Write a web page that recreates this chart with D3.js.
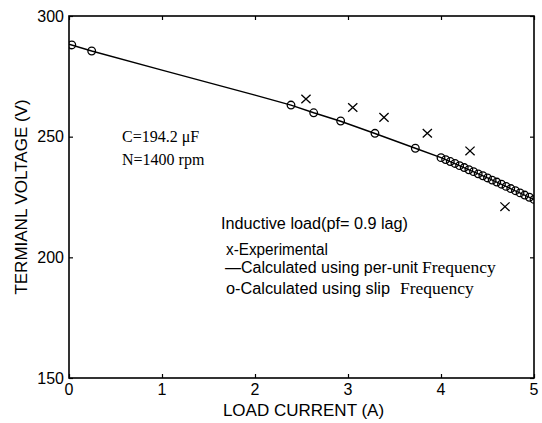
<!DOCTYPE html>
<html>
<head>
<meta charset="utf-8">
<script src="https://cdn.jsdelivr.net/npm/d3@7"></script>
<style>
  html, body { margin: 0; padding: 0; background: #fff; }
  svg { display: block; }
  .sans { font-family: "Liberation Sans", Arial, sans-serif; }
  .serif { font-family: "Liberation Serif", "Times New Roman", serif; }
</style>
</head>
<body>
<svg id="chart" width="542" height="423"></svg>
<script>
// Axis ticks
const xTicks = [0, 1, 2, 3, 4, 5];
const yTicks = [150, 200, 250, 300];

// Experimental points (x markers)
const expCurrent = [2.548, 3.051, 3.387, 3.853, 4.312, 4.688];
const expVoltage = [265.6, 262.1, 258.0, 251.4, 244.1, 221.0];

// Calculated using slip frequency (o markers)
const slipCurrent = [0.03, 0.244, 2.387, 2.631, 2.921, 3.290, 3.724,
  4.00, 4.05, 4.10, 4.15, 4.20, 4.25, 4.30, 4.35, 4.40, 4.45, 4.50,
  4.55, 4.60, 4.65, 4.70, 4.75, 4.80, 4.85, 4.90, 4.95, 5.00];
const slipVoltage = [288.0, 285.5, 263.1, 259.9, 256.5, 251.4, 245.2,
  241.3, 240.5, 239.7, 238.9, 238.0, 237.2, 236.3, 235.5, 234.6, 233.8, 232.9,
  232.0, 231.2, 230.3, 229.4, 228.5, 227.6, 226.7, 225.8, 224.9, 224.0];

// Calculated using per-unit frequency (solid line)
const puCurrent = [0, 0.244, 1.0, 2.0, 2.387, 2.631, 2.921, 3.290, 3.724, 4.0, 4.5, 5.0];
const puVoltage = [288.3, 285.5, 277.6, 267.2, 263.1, 259.9, 256.4, 251.3, 245.2, 241.3, 232.9, 224.0];

const svg = d3.select("#chart");
const plot = { left: 69, right: 534, top: 16, bottom: 378 };

const x = d3.scaleLinear().domain([0, 5]).range([plot.left, plot.right]);
const y = d3.scaleLinear().domain([150, 300]).range([plot.bottom, plot.top]);

// Clip for marks at the frame edge
svg.append("defs").append("clipPath").attr("id", "clip")
  .append("rect")
  .attr("x", plot.left).attr("y", plot.top)
  .attr("width", plot.right - plot.left).attr("height", plot.bottom - plot.top);

// Axes with inward ticks on all four sides
const tickLen = 4;
svg.append("g").attr("transform", `translate(0,${plot.bottom})`)
  .call(d3.axisBottom(x).tickValues(xTicks).tickSizeInner(-tickLen).tickSizeOuter(0).tickFormat(""));
svg.append("g").attr("transform", `translate(0,${plot.top})`)
  .call(d3.axisTop(x).tickValues(xTicks).tickSizeInner(-tickLen).tickSizeOuter(0).tickFormat(""));
svg.append("g").attr("transform", `translate(${plot.left},0)`)
  .call(d3.axisLeft(y).tickValues(yTicks).tickSizeInner(-tickLen).tickSizeOuter(0).tickFormat(""));
svg.append("g").attr("transform", `translate(${plot.right},0)`)
  .call(d3.axisRight(y).tickValues(yTicks).tickSizeInner(-tickLen).tickSizeOuter(0).tickFormat(""));
svg.selectAll(".domain").remove();
svg.selectAll(".tick line").attr("stroke", "#000").attr("stroke-width", 1.2);

// Frame
svg.append("rect")
  .attr("x", plot.left).attr("y", plot.top)
  .attr("width", plot.right - plot.left).attr("height", plot.bottom - plot.top)
  .attr("fill", "none").attr("stroke", "#000").attr("stroke-width", 1.6);

// Tick labels
svg.append("g").selectAll("text").data(xTicks).join("text")
  .attr("class", "sans")
  .attr("x", d => x(d)).attr("y", 395)
  .attr("text-anchor", "middle").attr("font-size", 16)
  .text(d => d);
svg.append("g").selectAll("text").data(yTicks).join("text")
  .attr("class", "sans")
  .attr("x", plot.left - 5).attr("y", d => y(d))
  .attr("dy", "0.36em")
  .attr("text-anchor", "end").attr("font-size", 16)
  .text(d => d);

// Axis titles
svg.append("text").attr("class", "sans")
  .attr("x", (plot.left + plot.right) / 2 + 2).attr("y", 416)
  .attr("text-anchor", "middle").attr("font-size", 17)
  .text("LOAD CURRENT (A)");
svg.append("text").attr("class", "sans")
  .attr("transform", `translate(27,${(plot.top + plot.bottom) / 2}) rotate(-90)`)
  .attr("text-anchor", "middle").attr("font-size", 17)
  .text("TERMIANL VOLTAGE (V)");

const marks = svg.append("g").attr("clip-path", "url(#clip)");

// Solid calculated curve
marks.append("path")
  .datum(puCurrent.map((c, i) => [c, puVoltage[i]]))
  .attr("fill", "none").attr("stroke", "#000").attr("stroke-width", 1.4)
  .attr("d", d3.line().x(d => x(d[0])).y(d => y(d[1])));

// Slip-frequency circles
marks.append("g").selectAll("circle")
  .data(slipCurrent.map((c, i) => [c, slipVoltage[i]]))
  .join("circle")
  .attr("cx", d => x(d[0])).attr("cy", d => y(d[1]))
  .attr("r", 3.8)
  .attr("fill", "none").attr("stroke", "#000").attr("stroke-width", 1.3);

// Experimental crosses
const hw = 4.6, hh = 4.3;
marks.append("g").selectAll("path")
  .data(expCurrent.map((c, i) => [c, expVoltage[i]]))
  .join("path")
  .attr("d", d => {
    const cx = x(d[0]), cy = y(d[1]);
    return `M${cx - hw},${cy - hh}L${cx + hw},${cy + hh}M${cx - hw},${cy + hh}L${cx + hw},${cy - hh}`;
  })
  .attr("stroke", "#000").attr("stroke-width", 1.3).attr("fill", "none");

// Operating conditions
svg.append("text").attr("class", "serif")
  .attr("x", 122).attr("y", 142).attr("font-size", 16)
  .text("C=194.2 \u03bcF");
svg.append("text").attr("class", "serif")
  .attr("x", 122).attr("y", 165).attr("font-size", 16)
  .text("N=1400 rpm");

// Legend block
svg.append("text").attr("class", "sans")
  .attr("x", 221).attr("y", 229).attr("font-size", 16)
  .attr("textLength", 187).attr("lengthAdjust", "spacingAndGlyphs")
  .text("Inductive load(pf= 0.9 lag)");
svg.append("text").attr("class", "sans")
  .attr("x", 226).attr("y", 255).attr("font-size", 16)
  .attr("textLength", 102).attr("lengthAdjust", "spacingAndGlyphs")
  .text("x-Experimental");

const l2 = svg.append("text").attr("y", 273);
l2.append("tspan").attr("class", "sans")
  .attr("x", 225).attr("font-size", 16)
  .attr("textLength", 193).attr("lengthAdjust", "spacingAndGlyphs")
  .text("\u2014Calculated using per-unit");
l2.append("tspan").attr("class", "serif")
  .attr("x", 422).attr("font-size", 17.5)
  .text("Frequency");

const l3 = svg.append("text").attr("y", 294);
l3.append("tspan").attr("class", "sans")
  .attr("x", 226).attr("font-size", 16)
  .attr("textLength", 164).attr("lengthAdjust", "spacingAndGlyphs")
  .text("o-Calculated using slip");
l3.append("tspan").attr("class", "serif")
  .attr("x", 400).attr("font-size", 17.5)
  .text("Frequency");
</script>
</body>
</html>
